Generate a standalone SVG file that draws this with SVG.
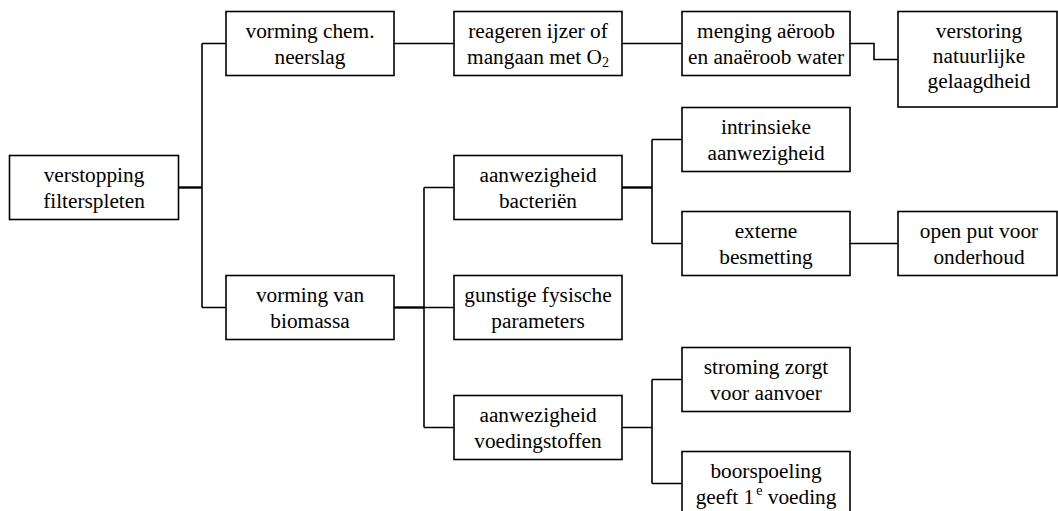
<svg xmlns="http://www.w3.org/2000/svg" width="1058" height="511" viewBox="0 0 1058 511">
  <style>
    .box { fill: #ffffff; stroke: #000000; stroke-width: 1.6; }
    .wire { fill: none; stroke: #000000; stroke-width: 1.6; }
    .stem { fill: none; stroke: #000000; stroke-width: 2.4; }
    .lbl { font-family: 'Liberation Serif', serif; font-size: 21.3px; fill: #000000; text-anchor: middle; }
    .sub { font-size: 14px; }
  </style>
  <rect width="1058" height="511" fill="#ffffff"/>

  <!-- tree connectors: stems from parent, vertical bus, branches to children -->
  <g id="connectors">
    <path class="stem" d="M178.5,187.5 H202"/>
    <path class="wire" d="M202,43.5 V307.5 M202,43.5 H226 M202,307.5 H226"/>
    <path class="wire" d="M394,43.5 H454"/>
    <path class="wire" d="M622,43.5 H682"/>
    <path class="wire" d="M850,43.5 H874 V59.5 H898"/>
    <path class="stem" d="M394,307.5 H424"/>
    <path class="wire" d="M424,187.5 V427.5 M424,187.5 H454 M424,307.5 H454 M424,427.5 H454"/>
    <path class="stem" d="M622,187.5 H652"/>
    <path class="wire" d="M652,139.5 V243.5 M652,139.5 H682 M652,243.5 H682"/>
    <path class="wire" d="M850,243.5 H898"/>
    <path class="wire" d="M622,427.5 H652 M652,379.5 V483.5 M652,379.5 H682 M652,483.5 H682"/>
  </g>

  <g class="lbl">
  <g id="n-verstopping">
    <rect class="box" x="9.5" y="155.5" width="169" height="64"/>
    <text x="94" y="182">verstopping</text>
    <text x="94" y="207.5">filterspleten</text>
  </g>

  <g id="n-chem-neerslag">
    <rect class="box" x="226" y="11.5" width="168" height="64"/>
    <text x="310" y="38">vorming chem.</text>
    <text x="310" y="63.5">neerslag</text>
  </g>

  <g id="n-reageren">
    <rect class="box" x="454" y="11.5" width="168" height="64"/>
    <text x="538" y="38">reageren ijzer of</text>
    <text x="538" y="63.5">mangaan met O<tspan class="sub" dy="3">2</tspan></text>
  </g>

  <g id="n-menging">
    <rect class="box" x="682" y="11.5" width="168" height="64"/>
    <text x="766" y="38">menging aëroob</text>
    <text x="766" y="63.5">en anaëroob water</text>
  </g>

  <g id="n-verstoring">
    <rect class="box" x="898" y="11.5" width="159" height="95.5"/>
    <text x="979" y="37.5">verstoring</text>
    <text x="979" y="62.5">natuurlijke</text>
    <text x="979" y="87.5">gelaagdheid</text>
  </g>

  <g id="n-intrinsiek">
    <rect class="box" x="682" y="107.5" width="168" height="64"/>
    <text x="766" y="134">intrinsieke</text>
    <text x="766" y="159.5">aanwezigheid</text>
  </g>

  <g id="n-bacterien">
    <rect class="box" x="454" y="155.5" width="168" height="64"/>
    <text x="538" y="182">aanwezigheid</text>
    <text x="538" y="207.5">bacteriën</text>
  </g>

  <g id="n-extern">
    <rect class="box" x="682" y="211.5" width="168" height="64"/>
    <text x="766" y="238">externe</text>
    <text x="766" y="263.5">besmetting</text>
  </g>

  <g id="n-open-put">
    <rect class="box" x="898" y="211.5" width="159" height="64"/>
    <text x="979" y="238">open put voor</text>
    <text x="979" y="263.5">onderhoud</text>
  </g>

  <g id="n-biomassa">
    <rect class="box" x="226" y="275.5" width="168" height="64"/>
    <text x="310" y="302">vorming van</text>
    <text x="310" y="327.5">biomassa</text>
  </g>

  <g id="n-fysisch">
    <rect class="box" x="454" y="275.5" width="168" height="64"/>
    <text x="538" y="302">gunstige fysische</text>
    <text x="538" y="327.5">parameters</text>
  </g>

  <g id="n-stroming">
    <rect class="box" x="682" y="347.5" width="168" height="64"/>
    <text x="766" y="374">stroming zorgt</text>
    <text x="766" y="399.5">voor aanvoer</text>
  </g>

  <g id="n-voedingstoffen">
    <rect class="box" x="454" y="395.5" width="168" height="64"/>
    <text x="538" y="422">aanwezigheid</text>
    <text x="538" y="447.5">voedingstoffen</text>
  </g>

  <g id="n-boorspoeling">
    <rect class="box" x="682" y="451.5" width="168" height="64"/>
    <text x="766" y="478">boorspoeling</text>
    <text x="766" y="503.5">geeft 1<tspan class="sub" dx="2" dy="-9">e</tspan><tspan dy="9"> voeding</tspan></text>
  </g>
  </g>
</svg>
